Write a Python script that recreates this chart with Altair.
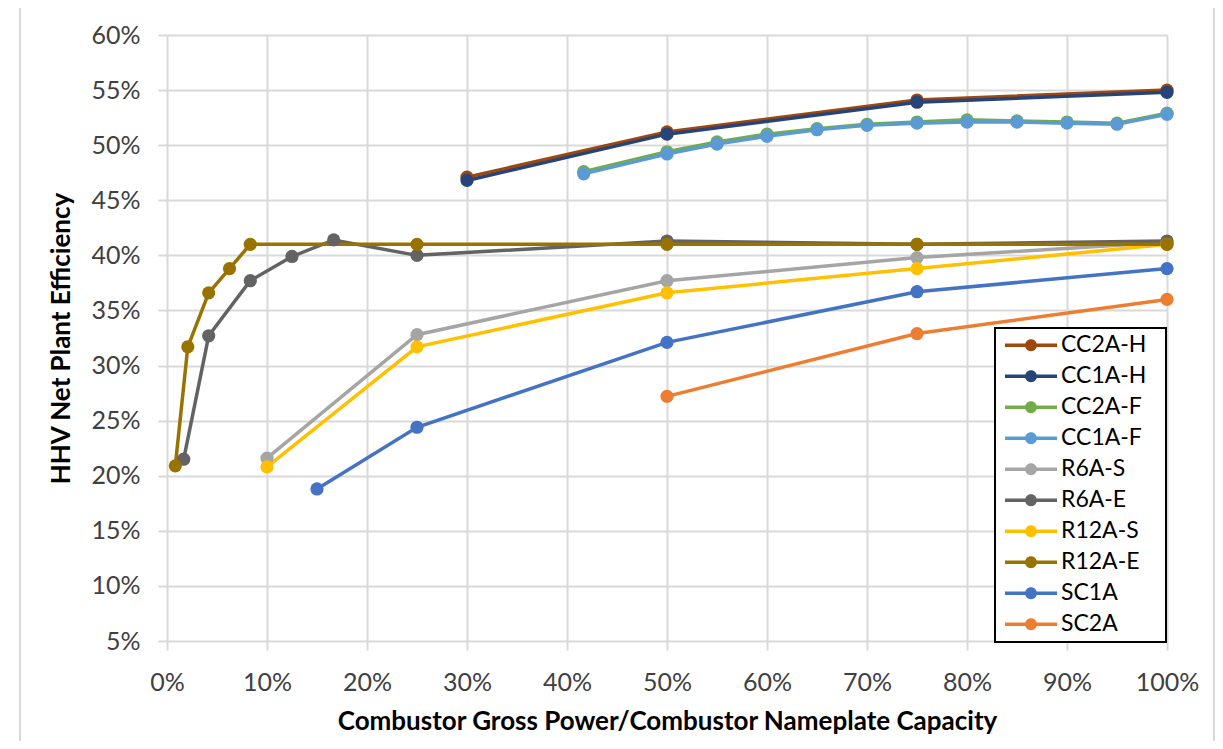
import altair as alt
import pandas as pd

series_names = ["CC2A-H", "CC1A-H", "CC2A-F", "CC1A-F", "R6A-S", "R6A-E",
                "R12A-S", "R12A-E", "SC1A", "SC2A"]
series_colors = ["#9E480E", "#264478", "#70AD47", "#5B9BD5", "#A5A5A5", "#636363",
                 "#FFC000", "#997300", "#4472C4", "#ED7D31"]

cc2a_h_x = [0.30, 0.50, 0.75, 1.00]
cc2a_h_y = [0.471, 0.512, 0.541, 0.550]
cc1a_h_x = [0.30, 0.50, 0.75, 1.00]
cc1a_h_y = [0.468, 0.510, 0.539, 0.548]
cc2a_f_x = [0.4167, 0.50, 0.55, 0.60, 0.65, 0.70, 0.75, 0.80, 0.85, 0.90, 0.95, 1.00]
cc2a_f_y = [0.476, 0.494, 0.503, 0.510, 0.515, 0.519, 0.521, 0.523, 0.522, 0.521, 0.520, 0.529]
cc1a_f_x = [0.4167, 0.50, 0.55, 0.60, 0.65, 0.70, 0.75, 0.80, 0.85, 0.90, 0.95, 1.00]
cc1a_f_y = [0.474, 0.492, 0.501, 0.508, 0.514, 0.518, 0.520, 0.521, 0.521, 0.520, 0.519, 0.528]
r6a_s_x = [0.10, 0.25, 0.50, 0.75, 1.00]
r6a_s_y = [0.216, 0.328, 0.377, 0.398, 0.412]
r6a_e_x = [0.0167, 0.0417, 0.0833, 0.125, 0.1667, 0.25, 0.50, 0.75, 1.00]
r6a_e_y = [0.215, 0.327, 0.377, 0.399, 0.414, 0.400, 0.413, 0.410, 0.413]
r12a_s_x = [0.10, 0.25, 0.50, 0.75, 1.00]
r12a_s_y = [0.208, 0.317, 0.366, 0.388, 0.410]
r12a_e_x = [0.0083, 0.0208, 0.0417, 0.0625, 0.0833, 0.25, 0.50, 0.75, 1.00]
r12a_e_y = [0.209, 0.317, 0.366, 0.388, 0.410, 0.410, 0.410, 0.410, 0.410]
sc1a_x = [0.15, 0.25, 0.50, 0.75, 1.00]
sc1a_y = [0.188, 0.244, 0.321, 0.367, 0.388]
sc2a_x = [0.50, 0.75, 1.00]
sc2a_y = [0.272, 0.329, 0.360]

x_ticks = [0.0, 0.1, 0.2, 0.3, 0.4, 0.5, 0.6, 0.7, 0.8, 0.9, 1.0]
y_ticks = [0.05, 0.10, 0.15, 0.20, 0.25, 0.30, 0.35, 0.40, 0.45, 0.50, 0.55, 0.60]

all_series = [
    (cc2a_h_x, cc2a_h_y), (cc1a_h_x, cc1a_h_y), (cc2a_f_x, cc2a_f_y), (cc1a_f_x, cc1a_f_y),
    (r6a_s_x, r6a_s_y), (r6a_e_x, r6a_e_y), (r12a_s_x, r12a_s_y), (r12a_e_x, r12a_e_y),
    (sc1a_x, sc1a_y), (sc2a_x, sc2a_y),
]
rows = []
for name, (xs, ys) in zip(series_names, all_series):
    for xv, yv in zip(xs, ys):
        rows.append({"series": name, "x": xv, "y": yv})
df = pd.DataFrame(rows)

FONT = "Lato"
LABEL_COLOR = "#404040"
GRID = "#d9d9d9"

x_enc = alt.X(
    "x:Q",
    scale=alt.Scale(domain=[0, 1], nice=False, zero=False),
    axis=alt.Axis(
        values=x_ticks, format=".0%", grid=True, gridColor=GRID, gridWidth=2,
        domain=False, ticks=True, tickColor=GRID, tickSize=9, tickWidth=2,
        labelPadding=20, labelFont=FONT, labelFontSize=25, labelColor=LABEL_COLOR,
        labelFlush=False, labelOverlap=False, labelBound=False,
        title="Combustor Gross Power/Combustor Nameplate Capacity",
        titleFont=FONT, titleFontSize=26, titleFontWeight="bold", titleColor="black",
        titleX=500, titleY=88, titleBaseline="alphabetic", titleAlign="center",
    ),
)
y_enc = alt.Y(
    "y:Q",
    scale=alt.Scale(domain=[0.05, 0.60], nice=False, zero=False),
    axis=alt.Axis(
        values=y_ticks, format=".0%", grid=True, gridColor=GRID, gridWidth=2,
        domain=False, ticks=True, tickColor=GRID, tickSize=9, tickWidth=2,
        labelPadding=18, labelFont=FONT, labelFontSize=25, labelColor=LABEL_COLOR,
        labelFlush=False, labelOverlap=False, labelBound=False,
        title="HHV Net Plant Efficiency",
        titleFont=FONT, titleFontSize=26, titleFontWeight="bold", titleColor="black",
        titleX=-98, titleY=303, titleAngle=-90, titleBaseline="alphabetic",
        titleAlign="center",
    ),
)
color_scale = alt.Scale(domain=series_names, range=series_colors)

legend_path = ("M-1,-0.065 L1,-0.065 L1,0.065 L-1,0.065 Z "
               "M0.23,0 A0.23,0.23 0 1,1 -0.23,0 A0.23,0.23 0 1,1 0.23,0 Z")

lines = alt.Chart(df).mark_line(strokeWidth=3.5).encode(
    x=x_enc, y=y_enc,
    color=alt.Color("series:N", scale=color_scale, sort=series_names, legend=None),
    detail="series:N",
)
points = alt.Chart(df).mark_point(filled=True, size=175, opacity=1, shape="circle").encode(
    x=x_enc, y=y_enc,
    color=alt.Color(
        "series:N", scale=color_scale, sort=series_names,
        legend=alt.Legend(
            title=None, orient="none", legendX=828, legendY=293,
            symbolType=legend_path, symbolSize=2704, symbolStrokeWidth=0,
            clipHeight=30.6, rowPadding=0, labelOffset=4,
            labelFont=FONT, labelFontSize=23, labelColor="black", labelLimit=300,
            labelExpr="datum.label + '\u2800'",
            strokeColor="black", fillColor="white", padding=2, symbolOffset=8,
        ),
    ),
)
frame = pd.DataFrame({"k": [0]})
border_left = alt.Chart(frame).mark_rule(color=GRID, strokeWidth=2).encode(
    x=alt.value(-147), y=alt.value(-40), y2=alt.value(800))
border_right = alt.Chart(frame).mark_rule(color=GRID, strokeWidth=2).encode(
    x=alt.value(1047), y=alt.value(-40), y2=alt.value(800))

chart = alt.layer(border_left, border_right, lines, points).resolve_legend(
    color="independent"
).properties(
    width=1000, height=606,
    padding={"left": 159, "top": 27, "right": 48, "bottom": 100},
    autosize=alt.AutoSizeParams(type="none"),
).configure_view(stroke=None).configure_legend(strokeWidth=2)

chart.save("out.html", embed_options={"renderer": "svg", "actions": False})
